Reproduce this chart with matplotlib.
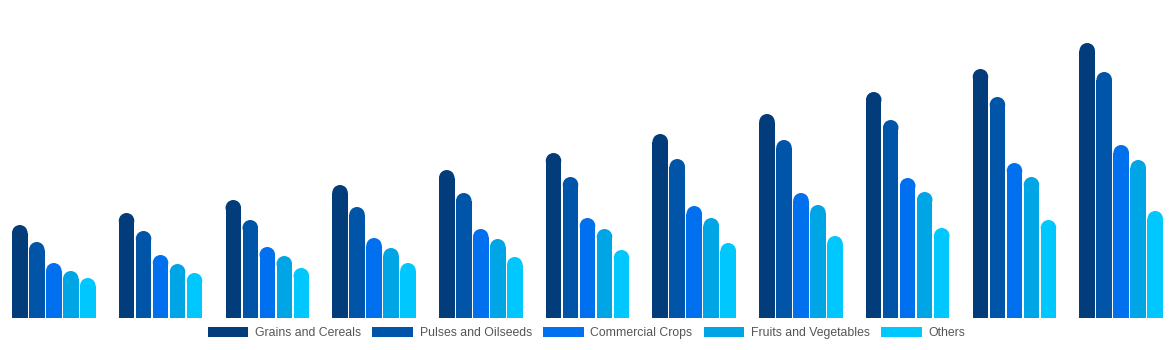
import matplotlib.pyplot as plt
from matplotlib.patches import Ellipse, Patch
import numpy as np

# --- data (bar heights, arbitrary units) ---
series = ["Grains and Cereals", "Pulses and Oilseeds", "Commercial Crops",
          "Fruits and Vegetables", "Others"]
colors = ["#033C7A", "#0055A8", "#0070EE", "#00A5E6", "#00C8FF"]

grains = [93, 105, 118, 133, 148, 165, 184, 204, 226, 249, 275]
pulses = [76, 87, 98, 111, 125, 141, 159, 178, 198, 221, 246]
commercial = [55, 63, 71, 80, 89, 100, 112, 125, 140, 155, 173]
fruits = [47, 54, 62, 70, 79, 89, 100, 113, 126, 141, 158]
others = [40, 45, 50, 55, 61, 68, 75, 82, 90, 98, 107]

values = [grains, pulses, commercial, fruits, others]
n_groups = len(grains)

# --- layout ---
fig = plt.figure(figsize=(11.74, 3.5), dpi=100)
ax = fig.add_axes([0, 32 / 350, 1, 318 / 350])
group_px = 106.74  # pixels per group
ax.set_xlim(-53.8 / group_px, (1174 - 53.8) / group_px)
ax.set_ylim(0, 318)
ax.axis('off')

x = np.arange(n_groups)
pitch = 17 / group_px
width = 15.5 / group_px
r = 7.75  # top radius in y units (y units == pixels here)

for i, (vals, col) in enumerate(zip(values, colors)):
    xs = x + (i - 2) * pitch
    ax.bar(xs, np.array(vals) - r, width=width, color=col, linewidth=0)
    for xc, v in zip(xs, vals):
        ax.add_patch(Ellipse((xc, v - r), width, 2 * r, color=col, linewidth=0))

handles = [Patch(facecolor=c, edgecolor='none') for c in colors]
fig.legend(handles, series, loc='center', bbox_to_anchor=(0.4996, 0.049),
           ncol=5, frameon=False, labelcolor='#555555',
           handlelength=3.33, handleheight=1.0, handletextpad=0.55,
           columnspacing=0.9, prop={'family': 'Liberation Sans', 'size': 8.8})

fig.savefig('out.png', dpi=100, facecolor='white')
